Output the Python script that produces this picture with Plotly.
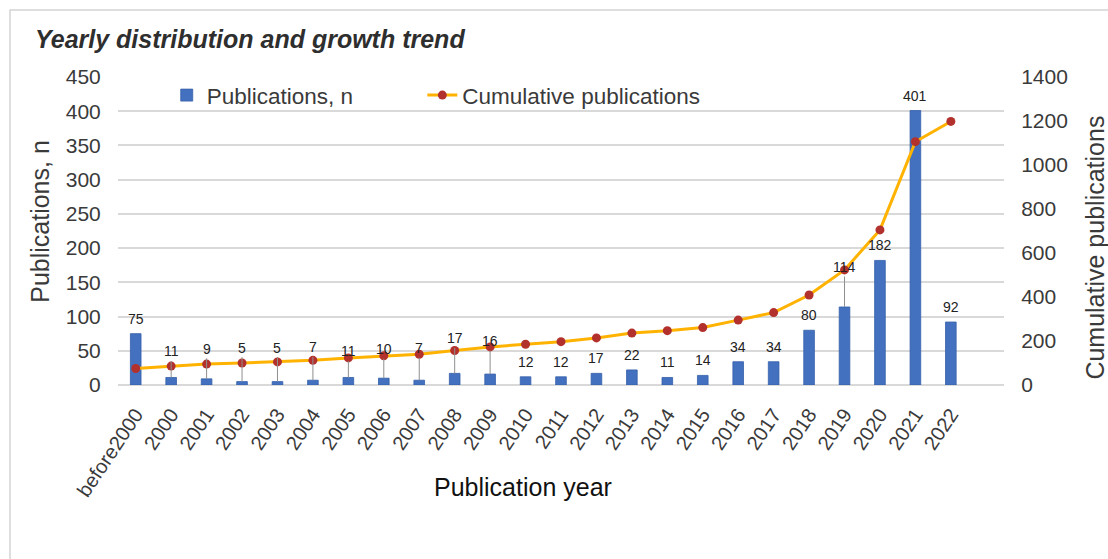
import plotly.graph_objects as go

# ---------------- data ----------------
categories = ["before2000", "2000", "2001", "2002", "2003", "2004", "2005", "2006",
              "2007", "2008", "2009", "2010", "2011", "2012", "2013", "2014", "2015",
              "2016", "2017", "2018", "2019", "2020", "2021", "2022"]
publications = [75, 11, 9, 5, 5, 7, 11, 10, 7, 17, 16, 12, 12, 17, 22, 11, 14,
                34, 34, 80, 114, 182, 401, 92]
cumulative = [75, 86, 95, 100, 105, 112, 123, 133, 140, 157, 173, 185, 197, 214,
              236, 247, 261, 295, 329, 409, 523, 705, 1106, 1198]
left_ticks = [0, 50, 100, 150, 200, 250, 300, 350, 400, 450]
right_ticks = [0, 200, 400, 600, 800, 1000, 1200, 1400]

# ---------------- style ----------------
FONT = "Liberation Sans, Arial, Helvetica, sans-serif"
TXT = "#3a3a3a"
BAR = "#4371BF"
LINE = "#FFB300"
DOT = "#B3312C"
GRID = "#d9d9d9"
# labels that are pulled up with a thin leader line (pixels above bar top)
leader_lift = {"2000": 26, "2001": 30, "2002": 34, "2003": 34, "2004": 33,
               "2005": 26, "2006": 29, "2007": 32, "2008": 35, "2009": 33,
               "2019": 40}

fig = go.Figure()
fig.add_trace(go.Bar(
    x=categories, y=publications, name="Publications, n",
    marker=dict(color=BAR, line=dict(color="#3560AA", width=0.8)),
    width=0.3, hoverinfo="skip", yaxis="y", legend="legend"))
fig.add_trace(go.Scatter(
    x=categories, y=cumulative, name="Cumulative publications",
    mode="lines+markers", yaxis="y2", legend="legend2",
    line=dict(color=LINE, width=3),
    marker=dict(color=DOT, size=9),
    hoverinfo="skip"))

annotations = []
for i, (cat, val) in enumerate(zip(categories, publications)):
    # category axis: annotation x given as the category's index position
    if cat in leader_lift:
        annotations.append(dict(
            x=i, y=val, xref="x", yref="y", text=str(val),
            showarrow=True, arrowhead=0, arrowwidth=1, arrowcolor="#8f8f8f",
            ax=0, ay=-leader_lift[cat], standoff=0,
            font=dict(family=FONT, size=14, color="#222")))
    else:
        annotations.append(dict(
            x=i, y=val, xref="x", yref="y", text=str(val),
            showarrow=False, xanchor="center", yanchor="bottom", yshift=5,
            font=dict(family=FONT, size=14, color="#222")))

# axis titles
annotations += [
    dict(text="Publication year", xref="paper", yref="paper", x=0.457, y=-0.332,
         xanchor="center", yanchor="middle",
         showarrow=False, font=dict(family=FONT, size=25, color="#111")),
    dict(text="Publications, n", xref="paper", yref="paper", x=-0.088, y=0.53,
         xanchor="center", yanchor="middle",
         textangle=-90, showarrow=False, font=dict(family=FONT, size=25, color=TXT)),
    dict(text="Cumulative publications", xref="paper", yref="paper", x=1.1027, y=0.446,
         xanchor="center", yanchor="middle",
         textangle=-90, showarrow=False, font=dict(family=FONT, size=25, color=TXT)),
]

legend_common = dict(orientation="h", y=0.94, xanchor="left", yanchor="middle",
                     font=dict(family=FONT, size=22.5, color=TXT),
                     bgcolor="rgba(0,0,0,0)", itemwidth=30)

fig.update_layout(
    width=1108, height=559,
    margin=dict(l=118, r=104, t=77, b=173.5, pad=0),
    paper_bgcolor="white", plot_bgcolor="white",
    font=dict(family=FONT, color=TXT),
    title=dict(text="<b><i>Yearly distribution and growth trend</i></b>",
               xref="container", yref="container", x=0.0316, y=0.93,
               xanchor="left", yanchor="middle",
               font=dict(family=FONT, size=25, color="#2e2e2e")),
    showlegend=True,
    legend=dict(x=0.055, **legend_common),
    legend2=dict(x=0.3435, **legend_common),
    xaxis=dict(type="category", categoryorder="array", categoryarray=categories,
               range=[-0.5, 24.5], tickangle=-56,
               tickfont=dict(family=FONT, size=20, color=TXT),
               ticks="outside", ticklen=9, tickcolor="rgba(0,0,0,0)",
               showgrid=False, showline=False, zeroline=False),
    yaxis=dict(range=[0, 450], tickvals=left_ticks,
               tickfont=dict(family=FONT, size=21, color=TXT),
               ticks="outside", ticklen=12, tickcolor="rgba(0,0,0,0)",
               showgrid=True, gridcolor=GRID, gridwidth=1.5,
               zeroline=True, zerolinecolor=GRID, zerolinewidth=1.5,
               showline=False),
    yaxis2=dict(range=[0, 1400], tickvals=right_ticks, overlaying="y", side="right",
                tickfont=dict(family=FONT, size=21, color=TXT),
                ticks="outside", ticklen=12, tickcolor="rgba(0,0,0,0)",
                showgrid=False, zeroline=False, showline=False),
    annotations=annotations,
    shapes=[dict(type="rect", xref="paper", yref="paper",
                 x0=-0.1219, x1=1.2, y0=-0.7, y1=1.2172,
                 line=dict(color="#d4d4d4", width=1.5), fillcolor="rgba(0,0,0,0)",
                 layer="below")],
)

fig.write_html("out.html", config={"displayModeBar": False},
               post_script="document.body.style.margin='0px';")
